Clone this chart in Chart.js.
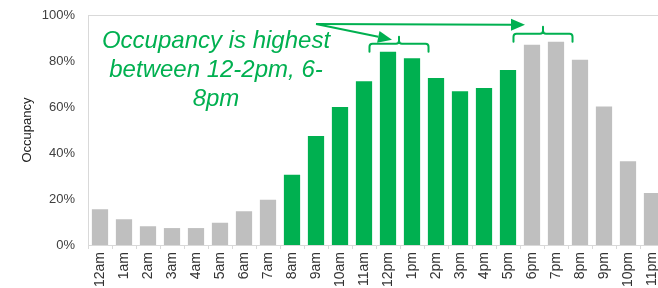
<!DOCTYPE html>
<html>
<head>
<meta charset="utf-8">
<script src="https://cdn.jsdelivr.net/npm/chart.js@4/dist/chart.umd.min.js"></script>
<style>
  html, body { margin: 0; padding: 0; background: #fff; }
  #wrap { width: 658px; height: 288px; overflow: hidden; position: relative; }
  canvas { display: block; }
</style>
</head>
<body>
<div id="wrap"><canvas id="c" width="672" height="288" style="width:672px;height:288px"></canvas></div>
<script>
const hours = ['12am','1am','2am','3am','4am','5am','6am','7am','8am','9am','10am','11am',
               '12pm','1pm','2pm','3pm','4pm','5pm','6pm','7pm','8pm','9pm','10pm','11pm'];
const occupancy = [0.16, 0.116, 0.086, 0.078, 0.078, 0.101, 0.151, 0.201, 0.31, 0.478, 0.604, 0.716,
                   0.845, 0.816, 0.73, 0.673, 0.687, 0.765, 0.875, 0.888, 0.81, 0.607, 0.368, 0.23];
const daytime = [0,0,0,0,0,0,0,0,1,1,1,1,1,1,1,1,1,1,0,0,0,0,0,0];
const yTicks = [0, 0.2, 0.4, 0.6, 0.8, 1.0];
const peakRanges = [['12pm','1pm'], ['6pm','7pm']];
const noteLines = ['Occupancy is highest', 'between 12-2pm, 6-', '8pm'];

const GREEN = '#00B050';
const GRAY = '#BFBFBF';
const TEXT = '#404040';
const AXIS = '#D9D9D9';

const barColors = daytime.map(d => d ? GREEN : GRAY);

const annotate = {
  id: 'annotate',
  afterDraw(chart) {
    const ctx = chart.ctx;
    const area = chart.chartArea;
    const xs = chart.scales.x, ys = chart.scales.y;
    ctx.save();
    // top border of plot area
    ctx.strokeStyle = AXIS;
    ctx.lineWidth = 1;
    ctx.beginPath();
    ctx.moveTo(area.left, area.top + 0.5);
    ctx.lineTo(area.right, area.top + 0.5);
    ctx.stroke();

    // note text
    ctx.fillStyle = GREEN;
    ctx.font = 'italic 24px "Liberation Sans", Arial, sans-serif';
    ctx.textAlign = 'center';
    ctx.textBaseline = 'middle';
    const tx = area.left + 128;
    noteLines.forEach((s, i) => ctx.fillText(s, tx, area.top + 26 + i * 29));

    // braces
    const band = xs.getPixelForValue(1) - xs.getPixelForValue(0);
    const tipOffsets = [{ dx: -7, dy: -4 }, { dx: -18, dy: -9 }];
    const tips = [];
    ctx.strokeStyle = GREEN;
    ctx.lineWidth = 2;
    ctx.lineCap = 'round';
    peakRanges.forEach(([a, b], k) => {
      const ia = hours.indexOf(a), ib = hours.indexOf(b);
      const cx = (xs.getPixelForValue(ia) + xs.getPixelForValue(ib)) / 2 - 1;
      const half = band * 1.23;
      const top = Math.max(occupancy[ia], occupancy[ib]);
      const y = ys.getPixelForValue(top) - 7;
      const x0 = cx - half, x1 = cx + half, r = 3;
      ctx.beginPath();
      ctx.moveTo(x0, y + 8);
      ctx.lineTo(x0, y + r);
      ctx.quadraticCurveTo(x0, y, x0 + r, y);
      ctx.lineTo(cx - r, y);
      ctx.quadraticCurveTo(cx, y, cx, y - r);
      ctx.lineTo(cx, y - 7);
      ctx.moveTo(cx, y - r);
      ctx.quadraticCurveTo(cx, y, cx + r, y);
      ctx.lineTo(x1 - r, y);
      ctx.quadraticCurveTo(x1, y, x1, y + r);
      ctx.lineTo(x1, y + 8);
      ctx.stroke();
      tips.push({ x: cx + tipOffsets[k].dx, y: y + tipOffsets[k].dy });
    });

    // arrows
    const sx = area.left + 228, sy = area.top + 9;
    ctx.fillStyle = GREEN;
    ctx.lineCap = 'butt';
    tips.forEach(t => {
      const ang = Math.atan2(t.y - sy, t.x - sx);
      const L = 14, W = 6;
      const bx = t.x - L * Math.cos(ang), by = t.y - L * Math.sin(ang);
      ctx.beginPath();
      ctx.moveTo(sx, sy);
      ctx.lineTo(bx, by);
      ctx.stroke();
      ctx.beginPath();
      ctx.moveTo(t.x, t.y);
      ctx.lineTo(bx + W * Math.sin(ang), by - W * Math.cos(ang));
      ctx.lineTo(bx - W * Math.sin(ang), by + W * Math.cos(ang));
      ctx.closePath();
      ctx.fill();
    });
    ctx.restore();
  }
};

new Chart(document.getElementById('c'), {
  type: 'bar',
  data: {
    labels: hours,
    datasets: [{
      data: occupancy,
      backgroundColor: barColors,
      borderColor: 'rgba(255,255,255,0.45)',
      borderWidth: 1,
      barPercentage: 0.76,
      categoryPercentage: 1.0
    }]
  },
  options: {
    responsive: false,
    animation: false,
    devicePixelRatio: 1,
    layout: { padding: { top: 15, right: 8, left: 0, bottom: 0 } },
    plugins: { legend: { display: false }, tooltip: { enabled: false } },
    scales: {
      x: {
        offset: true,
        grid: { display: true, offset: true, drawOnChartArea: false, drawTicks: true, tickLength: 4, color: AXIS },
        border: { color: AXIS, width: 1 },
        ticks: {
          autoSkip: false, maxRotation: 90, minRotation: 90, padding: 3,
          color: '#333', font: { family: '"Liberation Sans", Arial, sans-serif', size: 14 }
        },
        afterFit(s) { s.height = 43; s.paddingLeft = 0; s.paddingRight = 0; }
      },
      y: {
        min: 0, max: 1,
        afterBuildTicks(s) { s.ticks = yTicks.map(v => ({ value: v })); },
        grid: { display: false, drawTicks: false },
        border: { color: AXIS, width: 1 },
        ticks: {
          padding: 13, color: TEXT,
          font: { family: '"Liberation Sans", Arial, sans-serif', size: 13 },
          callback: v => Math.round(v * 100) + '%'
        },
        title: {
          display: true, text: 'Occupancy', color: '#222',
          font: { family: '"Liberation Sans", Arial, sans-serif', size: 13 },
          padding: { top: 20, bottom: 0 }
        },
        afterFit(s) { s.width = 88; s.paddingTop = 0; s.paddingBottom = 0; }
      }
    }
  },
  plugins: [annotate]
});
</script>
</body>
</html>
